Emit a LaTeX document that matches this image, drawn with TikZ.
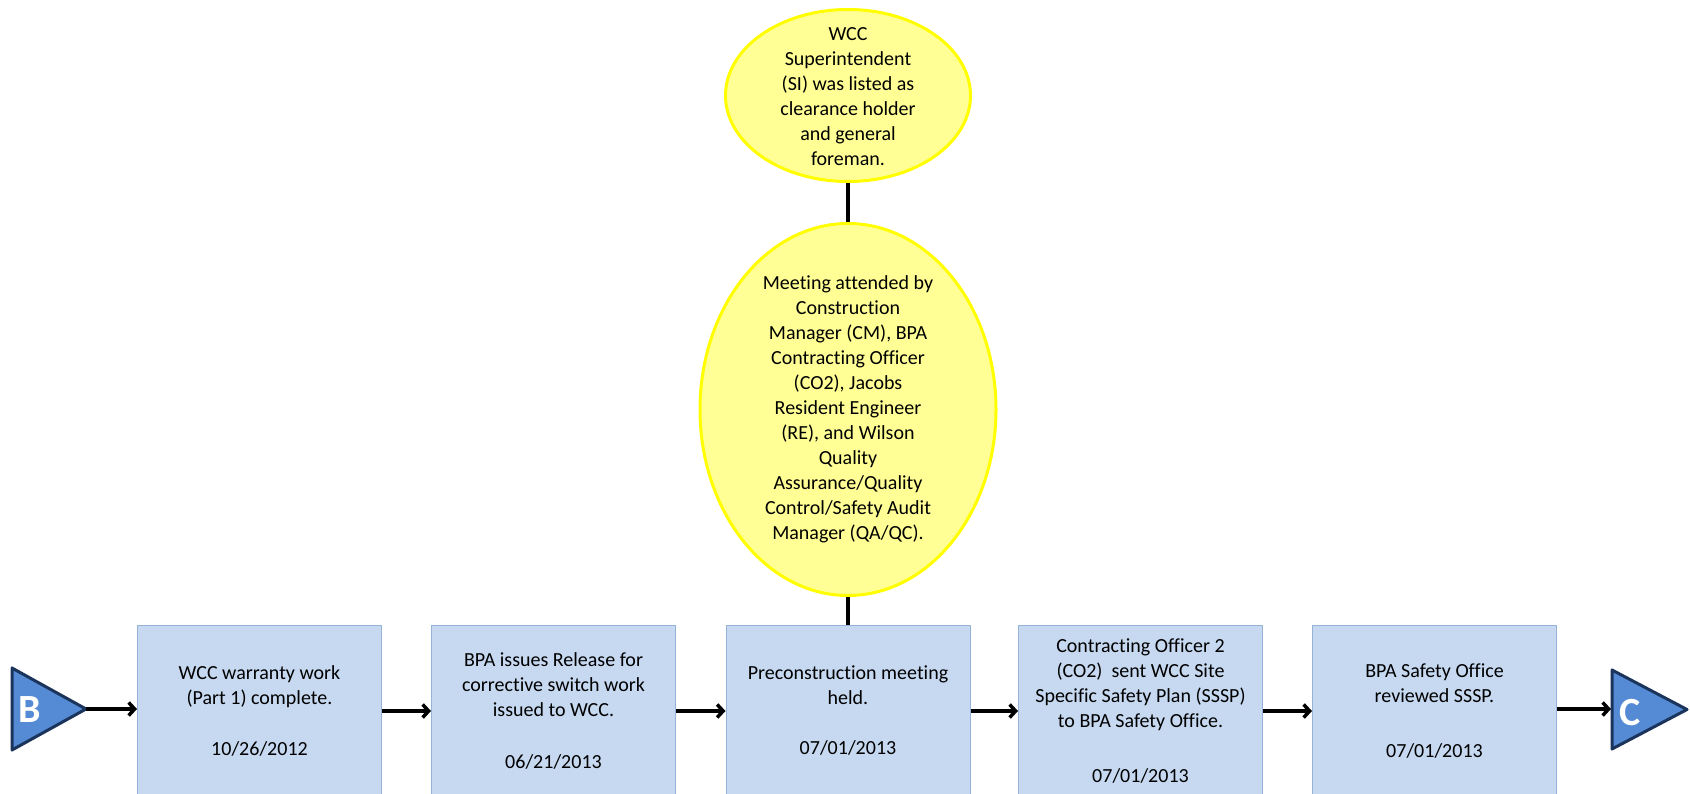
\documentclass[tikz,border=0pt]{standalone}
\usepackage{fontspec}
\setmainfont{Carlito}[Ligatures={NoCommon}]
\usepackage{tikz}
\usetikzlibrary{arrows.meta}
\usetikzlibrary{shapes.geometric}
\definecolor{boxfill}{RGB}{198,217,241}
\definecolor{boxline}{RGB}{149,179,215}
\definecolor{eventfill}{RGB}{255,255,150}
\definecolor{eventline}{RGB}{255,255,0}
\definecolor{flagfill}{RGB}{85,139,212}
\definecolor{flagline}{RGB}{26,52,92}
\tikzset{
  stepbox/.style={rectangle, draw=boxline, fill=boxfill, line width=1pt, minimum width=244, minimum height=172, inner sep=0, align=center, font=\fontsize{20}{25}\selectfont},
  event/.style={ellipse, draw=eventline, fill=eventfill, line width=3pt, inner sep=0},
  txt/.style={align=center, inner sep=0, font=\fontsize{20}{25}\selectfont},
  flag/.style={draw=flagline, fill=flagfill, line width=3pt},
  letter/.style={text=white, inner sep=0, font=\fontsize{40}{40}\selectfont\bfseries},
  link/.style={line width=3.5pt}
}

\begin{document}
\begin{tikzpicture}[line cap=butt,line join=round,>={Straight Barb[length=6pt,width=13pt]},x=1pt,y=-1pt]
\path [use as bounding box, clip] (0,0) rectangle (1690,794);
\node [event, minimum width=245, minimum height=172] (si) at (848,95.5) {};
\node [txt] (sitext) at (848,96.5) {WCC\\Superintendent\\(SI) was listed as\\clearance holder\\and general\\foreman.};
\node [event, minimum width=296, minimum height=372] (meeting) at (848,409.5) {};
\node [txt] (meetingtext) at (848,409) {Meeting attended by\\Construction\\Manager (CM), BPA\\Contracting Officer\\(CO2), Jacobs\\Resident Engineer\\(RE), and Wilson\\Quality\\Assurance/Quality\\Control/Safety Audit\\Manager (QA/QC).};
\draw [link] (si) -- (meeting);
\node [stepbox] (warranty) at (259.5,711) {WCC warranty work\\(Part 1) complete.\\[26pt]10/26/2012};
\node [stepbox] (release) at (553.5,711) {BPA issues Release for\\corrective switch work\\issued to WCC.\\[27pt]06/21/2013};
\node [stepbox] (precon) at (848,711) {Preconstruction meeting\\held.\\[25pt]07/01/2013};
\node [stepbox] (sssp) at (1140.5,711) {Contracting Officer 2\\(CO2)\ \ sent WCC Site\\Specific Safety Plan (SSSP)\\to BPA Safety Office.\\[30pt]07/01/2013};
\node [stepbox] (review) at (1434.5,711) {BPA Safety Office\\reviewed SSSP.\\[30pt]07/01/2013};
\draw [link] (meeting) -- (precon);
% connectors B and C
\draw [flag] (12,668) -- (86,709) -- (12,750) -- cycle;
\node [letter] (B) at (29.5,710) {B};
\coordinate (Btip) at (86,709);
\draw [flag] (1612,670) -- (1687,709.5) -- (1612,749) -- cycle;
\node [letter] (C) at (1630,713) {C};
\coordinate (Cback) at (1611,709);
\draw [link,->] (Btip) -- (warranty.west |- Btip);
\draw [link,->] (warranty) -- (release);
\draw [link,->] (release) -- (precon);
\draw [link,->] (precon) -- (sssp);
\draw [link,->] (sssp) -- (review);
\draw [link,->] (review.east |- Cback) -- (Cback);
\end{tikzpicture}
\end{document}
